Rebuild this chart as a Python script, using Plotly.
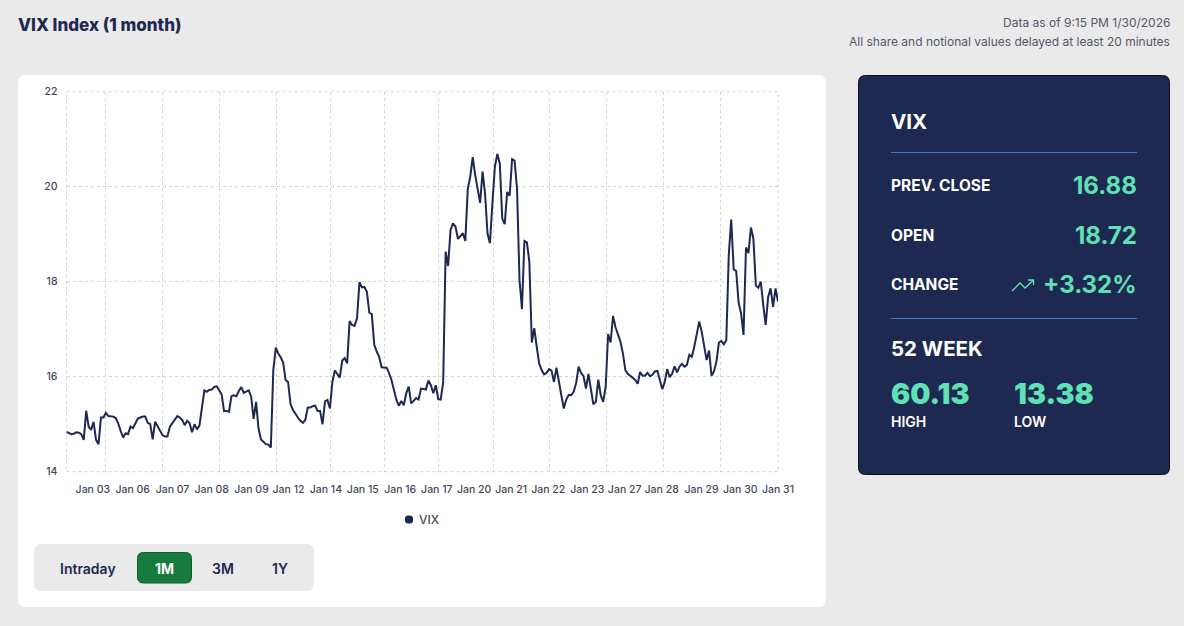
"""VIX Index (1 month) dashboard card rebuilt with Plotly."""

import plotly.graph_objects as go

W, H = 1184, 626
NAVY = "#1E2952"
MINT = "#5FE0B5"
GREY_BG = "#EAEAEA"
RULE = "#3F7CBF"
GRID = "#D4D4D4"
FONT = "Inter"

vix_values = [
    14.84, 14.81, 14.79, 14.80, 14.83, 14.82, 14.79, 14.67, 15.28, 14.95,
    14.88, 15.05, 14.67, 14.58, 15.14, 15.14, 15.24, 15.17, 15.16, 15.16,
    15.13, 15.02, 14.86, 14.72, 14.81, 14.79, 14.95, 14.92, 15.02, 15.12,
    15.14, 15.16, 15.16, 15.03, 15.00, 14.68, 15.05, 14.95, 14.86, 14.77,
    14.74, 14.74, 14.95, 15.03, 15.11, 15.17, 15.14, 15.09, 14.98, 15.07,
    15.02, 14.83, 15.00, 14.89, 14.97, 15.40, 15.71, 15.68, 15.72, 15.73,
    15.78, 15.80, 15.70, 15.63, 15.28, 15.28, 15.26, 15.59, 15.61, 15.59,
    15.70, 15.78, 15.66, 15.68, 15.71, 15.58, 15.11, 15.47, 14.91, 14.68,
    14.62, 14.58, 14.57, 14.51, 16.14, 16.61, 16.49, 16.41, 16.30, 15.93,
    15.89, 15.42, 15.30, 15.21, 15.14, 15.07, 15.03, 15.09, 15.35, 15.35,
    15.38, 15.39, 15.28, 15.28, 15.00, 15.48, 15.51, 15.33, 15.89, 16.13,
    16.06, 15.98, 16.34, 16.39, 16.28, 17.17, 17.09, 17.07, 17.23, 17.99,
    17.88, 17.89, 17.79, 17.35, 17.32, 16.67, 16.53, 16.42, 16.20, 16.20,
    16.19, 16.08, 15.93, 15.72, 15.51, 15.39, 15.49, 15.40, 15.65, 15.79,
    15.44, 15.49, 15.55, 15.52, 15.75, 15.74, 15.73, 15.92, 15.82, 15.65,
    15.82, 15.53, 15.52, 15.88, 18.63, 18.33, 19.09, 19.23, 19.16, 18.90,
    18.95, 19.02, 18.86, 19.96, 20.21, 20.62, 20.25, 19.96, 19.66, 20.32,
    19.86, 19.02, 18.81, 19.65, 20.42, 20.69, 20.49, 19.33, 19.21, 19.89,
    19.81, 20.58, 20.55, 19.96, 18.04, 17.42, 18.86, 18.83, 18.42, 16.72,
    17.02, 16.63, 16.28, 16.14, 16.05, 16.08, 16.16, 16.13, 15.89, 16.19,
    15.86, 15.61, 15.33, 15.52, 15.62, 15.61, 15.68, 15.86, 16.21, 16.08,
    16.01, 15.75, 16.06, 15.75, 15.42, 15.47, 15.94, 15.61, 15.47, 15.79,
    16.90, 16.72, 17.28, 17.04, 16.88, 16.74, 16.49, 16.14, 16.06, 16.01,
    15.98, 15.93, 15.85, 16.10, 16.02, 16.02, 16.08, 16.01, 16.04, 16.11,
    16.12, 15.94, 15.74, 15.89, 16.16, 15.99, 16.06, 16.22, 16.09, 16.21,
    16.27, 16.21, 16.25, 16.46, 16.42, 16.63, 16.91, 17.16, 16.95, 16.63,
    16.35, 16.55, 16.02, 16.11, 16.32, 16.72, 16.75, 16.68, 16.77, 18.56,
    19.31, 18.26, 18.23, 17.56, 17.33, 16.88, 18.72, 18.60, 19.14, 18.91,
    17.92, 17.87, 18.00, 17.51, 17.09, 17.68, 17.86, 17.47, 17.86, 17.58,
]
date_labels = [
    "Jan 03", "Jan 06", "Jan 07", "Jan 08", "Jan 09", "Jan 12", "Jan 14",
    "Jan 15", "Jan 16", "Jan 17", "Jan 20", "Jan 21", "Jan 22", "Jan 23",
    "Jan 27", "Jan 28", "Jan 29", "Jan 30", "Jan 31",
]
y_ticks = [14, 16, 18, 20, 22]

# share of the x axis where each label / gridline sits
label_share = [
    0.0370, 0.0930, 0.1490, 0.2040, 0.2600, 0.3120, 0.3645, 0.4165, 0.4690,
    0.5205, 0.5730, 0.6250, 0.6770, 0.7320, 0.7845, 0.8365, 0.8925, 0.9470,
    1.0,
]
grid_share = [
    0.0, 0.0550, 0.1350, 0.2150, 0.2950, 0.3710, 0.4475, 0.5235, 0.6000,
    0.6790, 0.7590, 0.8390, 0.9190, 1.0,
]

last = len(vix_values) - 1
points = list(range(len(vix_values)))


def px(x):
    return x / W


def py(y):
    return 1 - y / H


def round_rect(x0, y0, x1, y1, r, fill, line=None):
    l, r_, t, b = px(x0), px(x1), py(y0), py(y1)
    rx, ry = r / W, r / H
    path = (
        f"M {l + rx} {t} L {r_ - rx} {t} Q {r_} {t} {r_} {t - ry} "
        f"L {r_} {b + ry} Q {r_} {b} {r_ - rx} {b} "
        f"L {l + rx} {b} Q {l} {b} {l} {b + ry} "
        f"L {l} {t - ry} Q {l} {t} {l + rx} {t} Z"
    )
    return dict(
        type="path", path=path, xref="paper", yref="paper", fillcolor=fill,
        line=dict(color=line or fill, width=1), layer="below",
    )


def rule(x0, x1, y):
    return dict(
        type="line", xref="paper", yref="paper", x0=px(x0), x1=px(x1),
        y0=py(y), y1=py(y), line=dict(color=RULE, width=1), layer="below",
    )


def label(x, y, text, size, color, weight=400, anchor="left"):
    return dict(
        x=px(x), y=py(y), xref="paper", yref="paper", text=text,
        showarrow=False, xanchor=anchor, yanchor="middle", borderpad=0,
        font=dict(family=FONT, size=size, color=color, weight=weight),
    )


fig = go.Figure()
fig.add_trace(go.Scatter(
    x=points, y=vix_values, mode="lines", name="VIX", showlegend=False,
    line=dict(color=NAVY, width=2),
))
# empty trace so the label axis gets drawn
fig.add_trace(go.Scatter(
    x=[None], y=[None], mode="lines", showlegend=False, xaxis="x2",
))

shapes = [
    round_rect(18.5, 75.5, 825.5, 606.5, 7, "#FFFFFF"),
    round_rect(858.5, 75.5, 1169.5, 474.5, 7, NAVY, "#0B0F1E"),
    rule(891, 1137, 152.5),
    rule(891, 1137, 318.5),
    round_rect(34.5, 544.5, 313.5, 590.5, 7, GREY_BG),
    round_rect(137.5, 552.5, 191.5, 583, 6, "#157A3C", "#0F5C2C"),
    round_rect(405.5, 516, 412.5, 523, 2, NAVY),
    # plotly clips gridlines at the range ends, so the frame is drawn here
    dict(
        type="rect", xref="x domain", yref="y domain", x0=0, x1=1, y0=0, y1=1,
        line=dict(color=GRID, width=1, dash="3px,3px"), layer="below",
    ),
    # small trend arrow next to the change figure
    dict(
        type="path", xref="paper", yref="paper",
        path=(
            f"M {px(1012)} {py(291)} L {px(1020)} {py(283)} L {px(1025)} {py(288)} "
            f"L {px(1033.5)} {py(280)} M {px(1028)} {py(280)} L {px(1033.5)} {py(280)} "
            f"L {px(1033.5)} {py(285)}"
        ),
        line=dict(color=MINT, width=1.3),
    ),
]

annotations = [
    label(17, 24.5, "VIX Index (1 month)", 17, NAVY, 800),
    label(1171, 23, "Data as of 9:15 PM 1/30/2026", 12, "#55586A", 400, "right"),
    label(1171, 42, "All share and notional values delayed at least 20 minutes",
          12, "#55586A", 400, "right"),
    label(890, 122, "VIX", 20.5, "#FFFFFF", 700),
    label(890, 185, "PREV. CLOSE", 15.5, "#FFFFFF", 700),
    label(1138, 185, "16.88", 24, MINT, 700, "right"),
    label(890, 235, "OPEN", 15.5, "#FFFFFF", 700),
    label(1138, 235, "18.72", 24, MINT, 700, "right"),
    label(890, 284, "CHANGE", 15.5, "#FFFFFF", 700),
    label(1138, 284, "+3.32%", 24, MINT, 700, "right"),
    label(890, 348.5, "52 WEEK", 20.5, "#FFFFFF", 700),
    label(890, 393, "60.13", 28.5, MINT, 900),
    label(1013, 393, "13.38", 28.5, MINT, 900),
    label(890, 421, "HIGH", 14, "#FFFFFF", 600),
    label(1013, 421, "LOW", 14, "#FFFFFF", 600),
    label(88, 568, "Intraday", 14, NAVY, 600, "center"),
    label(164, 568, "1M", 14, "#FFFFFF", 700, "center"),
    label(223, 568, "3M", 14, NAVY, 600, "center"),
    label(280, 568, "1Y", 14, NAVY, 600, "center"),
    label(418, 519.5, "VIX", 12, "#4A4D5E", 500),
]

tick_font = dict(family=FONT, size=10.5, color="#44475A", weight=500)

fig.update_layout(
    width=W, height=H, margin=dict(l=0, r=0, t=0, b=0, autoexpand=False),
    paper_bgcolor=GREY_BG, plot_bgcolor="#FFFFFF",
    font=dict(family=FONT, size=10.5, color="#4A4D5E"),
    shapes=shapes, annotations=annotations,
    showlegend=False,
    xaxis=dict(
        domain=[px(66.5), px(778)], range=[0, last],
        tickvals=[s * last for s in grid_share], ticktext=[""] * len(grid_share),
        showgrid=True, gridcolor=GRID, griddash="3px,3px", gridwidth=1,
        zeroline=False, showline=False, ticks="",
    ),
    xaxis2=dict(
        domain=[px(66.5), px(778)], range=[0, last], overlaying="x", side="bottom",
        anchor="y", tickvals=[s * last for s in label_share], ticktext=date_labels,
        showgrid=False, zeroline=False, showline=False, ticks="", tickangle=0,
        ticklabelstandoff=10, tickfont=tick_font,
    ),
    yaxis=dict(
        domain=[py(471.7), py(91.7)], range=[14, 22], tickvals=y_ticks,
        showgrid=True, gridcolor=GRID, griddash="3px,3px", gridwidth=1,
        zeroline=False, showline=False, ticks="", ticklabelstandoff=8,
        tickfont=tick_font,
    ),
)

fig.write_html(
    "out.html",
    config={"displayModeBar": False},
    post_script="document.body.style.margin='0';document.body.style.overflow='hidden';",
)
